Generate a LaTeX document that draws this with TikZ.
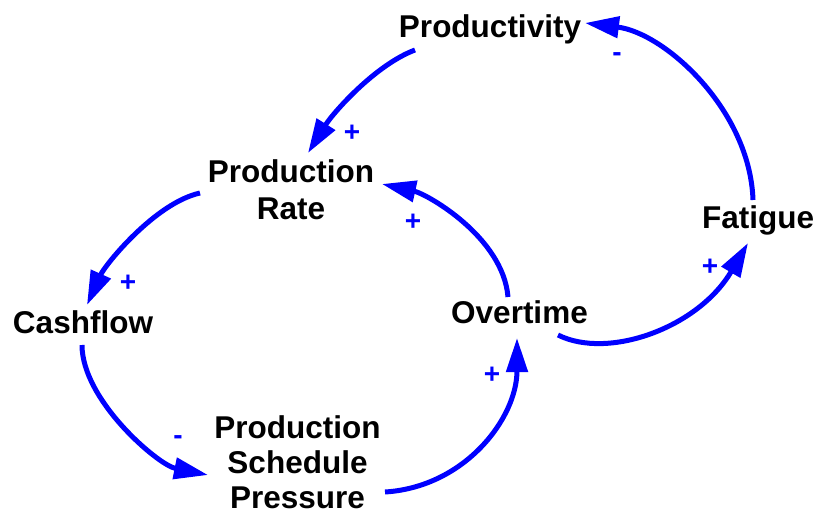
\documentclass[tikz,border=0pt]{standalone}
\usepackage{fontspec}
\setmainfont{Liberation Sans}
\usetikzlibrary{arrows.meta}
\definecolor{loopblue}{RGB}{0,0,255}
\tikzset{
  var/.style={font=\fontsize{31.5}{37}\selectfont\bfseries, inner sep=0pt, anchor=base, text=black},
  pol/.style={font=\fontsize{28}{30}\selectfont\bfseries, text=loopblue, inner sep=0pt},
  link/.style={draw=loopblue, line width=5pt, -{Triangle[length=34pt,width=21pt]}}
}
\newcommand{\mlines}[1]{{\setlength{\tabcolsep}{0pt}\renewcommand{\arraystretch}{1}\begin{tabular}[t]{c}#1\end{tabular}}}
\begin{document}
\begin{tikzpicture}[x=1pt,y=-1pt]
\useasboundingbox (0,0) rectangle (817,514);
\node[var] (prod) at (490,37) {Productivity};
\node[var] (rate) at (291,182) {\mlines{Production\\Rate}};
\node[var] (cash) at (83,333) {Cashflow};
\node[var] (over) at (519.5,323) {Overtime};
\node[var] (fat) at (758,228) {Fatigue};
\node[var, font=\fontsize{31.5}{35}\selectfont\bfseries] (psp) at (297.5,438) {\mlines{Production\\Schedule\\Pressure}};

\draw[link] ([shift={(-75,13)}]prod.base) .. controls +(-40,15) and +(25,-40) .. ([shift={(17,-29)}]rate.base);
\draw[link] ([shift={(-91,11)}]rate.base) .. controls +(-45,10) and +(18,-40) .. ([shift={(4,-28)}]cash.base);
\draw[link] ([shift={(-1,12)}]cash.base) .. controls +(0,55) and +(-50,-10) .. ([shift={(-89.5,37)}]psp.base);
\draw[link] ([shift={(87.5,54)}]psp.base) .. controls +(80,-5) and +(0,80) .. ([shift={(-2.5,15)}]over.base);
\draw[link] ([shift={(-11.5,-26)}]over.base) .. controls +(-5,-60) and +(45,10) .. ([shift={(91,2)}]rate.base);
\draw[link] ([shift={(38.5,12)}]over.base) .. controls +(50,25) and +(-50,85) .. ([shift={(-10,15)}]fat.base);
\draw[link] ([shift={(-5,-28)}]fat.base) .. controls +(-3,-90) and +(80,10) .. ([shift={(95,-14)}]prod.base);

\node[pol] (p1) at (352,133) {+};
\node[pol] (p2) at (128,283) {+};
\node[pol] (p3) at (178,440) {-};
\node[pol] (p4) at (492,375) {+};
\node[pol] (p5) at (413,222) {+};
\node[pol] (p6) at (710,267) {+};
\node[pol] (p7) at (617,57) {-};
\end{tikzpicture}
\end{document}
